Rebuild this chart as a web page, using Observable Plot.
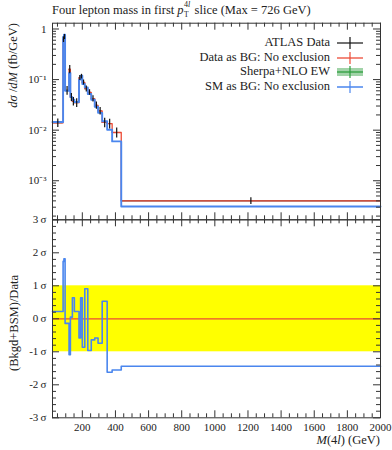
<!DOCTYPE html>
<html><head><meta charset="utf-8">
<script src="https://cdn.jsdelivr.net/npm/d3@7"></script>
<script src="https://cdn.jsdelivr.net/npm/@observablehq/plot@0.6"></script>
<style>
html,body{margin:0;padding:0;background:#fff;}
#chart{position:relative;width:392px;height:450px;font-family:"Liberation Serif",serif;color:#222;overflow:hidden;}
#chart svg.plotsvg{position:absolute;left:0;}
.lbl{position:absolute;white-space:nowrap;line-height:1;}
</style></head><body><div id="chart"></div>
<script>
// ---- data ----
const binEdges   = [20, 84, 89, 96, 120, 128, 140, 152, 180, 190, 200, 215, 233, 254, 275, 295, 320, 350, 380, 435, 2000];
const smValues   = [0.0145, 0.70, 0.77, 0.060, 0.135, 0.045, 0.040, 0.036, 0.100, 0.120, 0.082, 0.070, 0.052, 0.040, 0.029, 0.022, 0.015, 0.0102, 0.0060, 0.00031];
const dataValues = [0.0140, 0.62, 0.70, 0.061, 0.160, 0.045, 0.037, 0.035, 0.108, 0.115, 0.088, 0.066, 0.056, 0.042, 0.031, 0.024, 0.0142, 0.0135, 0.0090, 0.00040];
const dataErrors = [0.0027, 0.08, 0.08, 0.012, 0.03, 0.008, 0.007, 0.007, 0.012, 0.012, 0.010, 0.009, 0.007, 0.006, 0.005, 0.004, 0.003, 0.003, 0.002, 0.00006];
const ratioSigma = [0.22, 1.74, 1.82, -0.14, -1.09, 0.05, 0.64, 0.22, -0.58, 0.64, -0.86, 0.91, -0.96, -0.64, -0.58, -0.74, 0.53, -1.62, -1.55, -1.44];
const xTickLabels = [200, 400, 600, 800, 1000, 1200, 1400, 1600, 1800, 2000];
const yTickDecades = [1e-3, 1e-2, 1e-1, 1];
const sigmaTicks = [-3, -2, -1, 0, 1, 2, 3];
const bandLimits = [-1, 1];
const legendLabels = ["ATLAS Data", "Data as BG: No exclusion", "Sherpa+NLO EW", "SM as BG: No exclusion"];
const titleText = "Four lepton mass in first";

// ---- styling / layout ----
const blue = "#4a86ee", red = "#ec4b36", green = "#2e9e3e", frameCol = "#333";
const W = 392, L = 52, R = 12;
const pW = W - L - R;
const topH = 220, topMT = 22.7, topMB = 0.7;
const pH1 = topH - topMT - topMB;
const botTop = 200, botH = 250, botMT = 19.3, botMB = 32.7;
const pH2 = botH - botMT - botMB;
const xDomain = [binEdges[0], binEdges[binEdges.length - 1]];
const yDomainTop = [1.69e-4, 1.302];

const n = smValues.length;
const bins = smValues.map((v, i) => ({
  x1: binEdges[i], x2: binEdges[i + 1], mid: (binEdges[i] + binEdges[i + 1]) / 2,
  sm: v, data: dataValues[i], err: dataErrors[i], ratio: ratioSigma[i]
}));
const step = arr => binEdges.map((e, i) => ({x: e, y: arr[Math.min(i, n - 1)]}));

const xMajor = xTickLabels;
const xMinor = d3.range(50, 2000, 50).filter(v => v > xDomain[0] && v % 200 !== 0);
const yMajor = yTickDecades;
const yMinor = [];
for (let d = -4; d <= 0; d++) for (let m = 2; m <= 9; m++) {
  const v = m * Math.pow(10, d);
  if (v > yDomainTop[0] && v < yDomainTop[1]) yMinor.push(v);
}
const sMinor = d3.range(-3, 3.001, 0.2).map(v => +v.toFixed(2)).filter(v => Math.abs(v - Math.round(v)) > 1e-6);

const sup = {"-": "⁻", "0": "⁰", "1": "¹", "2": "²", "3": "³", "4": "⁴"};
const fmtPow = d => d === 1 ? "1" : "10" + String(Math.round(Math.log10(d))).split("").map(c => sup[c]).join("");

const baseStyle = {background: "transparent", fontFamily: "Liberation Serif, serif", fontSize: "11px", color: "#222", overflow: "visible"};

function tickMarks(pH, yMaj, yMin) {
  return [
    Plot.ruleX(xMajor, {insetTop: pH - 7, stroke: frameCol}),
    Plot.ruleX(xMajor, {insetBottom: pH - 7, stroke: frameCol}),
    Plot.ruleX(xMinor, {insetTop: pH - 4, stroke: frameCol}),
    Plot.ruleX(xMinor, {insetBottom: pH - 4, stroke: frameCol}),
    Plot.ruleY(yMaj, {insetRight: pW - 7, stroke: frameCol}),
    Plot.ruleY(yMaj, {insetLeft: pW - 7, stroke: frameCol}),
    Plot.ruleY(yMin, {insetRight: pW - 4, stroke: frameCol}),
    Plot.ruleY(yMin, {insetLeft: pW - 4, stroke: frameCol})
  ];
}

const topPlot = Plot.plot({
  width: W, height: topH, marginLeft: L, marginRight: R, marginTop: topMT, marginBottom: topMB,
  style: baseStyle,
  x: {domain: xDomain, axis: null},
  y: {type: "log", domain: yDomainTop},
  marks: [
    Plot.ruleY(bins, {y: "data", x1: "x1", x2: "x2", stroke: "#111", strokeWidth: 1}),
    Plot.line(step(dataValues), {x: "x", y: "y", curve: "step-after", stroke: red, strokeWidth: 1.3}),
    Plot.line(step(smValues), {x: "x", y: "y", curve: "step-after", stroke: blue, strokeWidth: 1.9}),
    Plot.ruleX(bins, {x: "mid", y1: d => d.data - d.err, y2: d => d.data + d.err, stroke: "#111", strokeWidth: 1.2}),
    ...tickMarks(pH1, yMajor, yMinor),
    Plot.axisY(yTickDecades, {tickSize: 0, tickPadding: 6, tickFormat: fmtPow, label: null, fontSize: 11}),
    Plot.frame({stroke: frameCol})
  ]
});

const botPlot = Plot.plot({
  width: W, height: botH, marginLeft: L, marginRight: R, marginTop: botMT, marginBottom: botMB,
  style: baseStyle,
  x: {domain: xDomain},
  y: {domain: [-3, 3]},
  marks: [
    Plot.rect([bandLimits], {x1: xDomain[0], x2: xDomain[1], y1: d => d[0], y2: d => d[1], fill: "#ffff00"}),
    Plot.ruleY([0], {x1: xDomain[0], x2: xDomain[1], stroke: red, strokeWidth: 1.3}),
    Plot.line(step(ratioSigma), {x: "x", y: "y", curve: "step-after", stroke: blue, strokeWidth: 1.6}),
    ...tickMarks(pH2, sigmaTicks, sMinor),
    Plot.axisX(xTickLabels, {tickSize: 0, tickPadding: 5, tickFormat: d => String(d), label: null, fontSize: 11}),
    Plot.axisY(sigmaTicks, {tickSize: 0, tickPadding: 6, tickFormat: d => d + "\u2009σ", label: null, fontSize: 11}),
    Plot.frame({stroke: frameCol})
  ]
});

const chart = document.getElementById("chart");
topPlot.classList.add("plotsvg"); topPlot.style.top = "0px";
botPlot.classList.add("plotsvg"); botPlot.style.top = botTop + "px";
chart.appendChild(topPlot);
chart.appendChild(botPlot);

function addLabel(html, css) {
  const d = document.createElement("div");
  d.className = "lbl";
  d.innerHTML = html;
  Object.assign(d.style, css);
  chart.appendChild(d);
  return d;
}
// title (pieces placed side by side so nothing overlaps)
const t1 = addLabel(titleText + ' <i>p</i>', {left: "52px", top: "4px", fontSize: "12.5px"});
const t1w = t1.getBoundingClientRect().width;
addLabel('4<i>l</i>', {left: (52 + t1w + 0.5) + "px", top: "1px", fontSize: "8px"});
addLabel('T', {left: (52 + t1w + 0.5) + "px", top: "11px", fontSize: "7.5px"});
addLabel('slice (Max = 726 GeV)', {left: (52 + t1w + 11) + "px", top: "4px", fontSize: "12.5px"});
// y label top
addLabel('<i>dσ</i> /<i>dM</i> (fb/GeV)', {left: "13px", top: "23px", fontSize: "12.5px", transformOrigin: "0 0", transform: "rotate(-90deg) translate(-100%, -50%)"});
// y label bottom
addLabel('(Bkgd+BSM)/Data', {left: "14px", top: "323px", fontSize: "12.5px", transformOrigin: "0 0", transform: "rotate(-90deg) translate(-50%, -50%)"});
// x label
addLabel('<i>M</i>(4<i>l</i>) (GeV)', {right: (W - 380) + "px", top: "434px", fontSize: "12.5px"});

// legend
const legendY = [43.3, 57.6, 72.2, 86.8];
const legendSym = [
  `<line x1="0" y1="6" x2="26" y2="6" stroke="#111" stroke-width="1.2"/><line x1="13" y1="0" x2="13" y2="12" stroke="#111" stroke-width="1.2"/>`,
  `<line x1="0" y1="6" x2="26" y2="6" stroke="${red}" stroke-width="1.3"/><line x1="13" y1="0" x2="13" y2="12" stroke="${red}" stroke-width="1.2"/>`,
  `<rect x="0" y="2" width="26" height="8" fill="${green}" fill-opacity="0.45"/><line x1="0" y1="6" x2="26" y2="6" stroke="${green}" stroke-width="1.3"/><line x1="13" y1="0" x2="13" y2="12" stroke="${green}" stroke-width="1.2"/>`,
  `<line x1="0" y1="6" x2="26" y2="6" stroke="${blue}" stroke-width="1.5"/><line x1="13" y1="0" x2="13" y2="12" stroke="${blue}" stroke-width="1.2"/>`
];
legendLabels.forEach((t, i) => {
  addLabel(t, {right: (W - 330) + "px", top: (legendY[i] - 7) + "px", fontSize: "12.5px"});
  addLabel(`<svg width="26" height="12" style="display:block">${legendSym[i]}</svg>`, {left: "337px", top: (legendY[i] - 6) + "px"});
});
</script></body></html>
